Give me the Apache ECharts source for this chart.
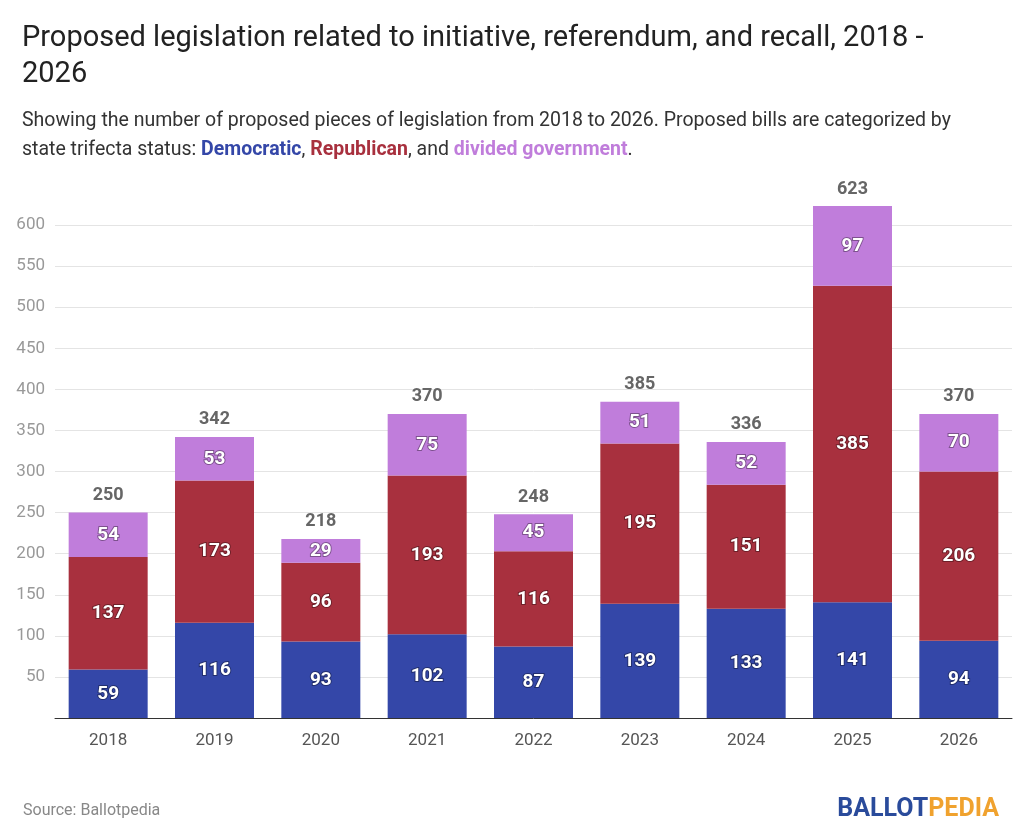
<!DOCTYPE html>
<html><head><meta charset="utf-8">
<script src="https://cdn.jsdelivr.net/npm/echarts@6/dist/echarts.min.js"></script>
<style>body{margin:0}#c{width:1024px;height:837px}</style></head>
<body><div id="c"></div><script>
const years=['2018','2019','2020','2021','2022','2023','2024','2025','2026'];
const dem=[59,116,93,102,87,139,133,141,94];
const rep=[137,173,96,193,116,195,151,385,206];
const div=[54,53,29,75,45,51,52,97,70];
const tot=[250,342,218,370,248,385,336,623,370];
const ch=echarts.init(document.getElementById('c'));
const inLbl={show:true,position:'inside',color:'#fff',fontSize:19,fontWeight:'bold',fontFamily:'Roboto',textBorderColor:'rgba(0,0,0,0.35)',textBorderWidth:2};
const bw=79;
ch.setOption({
 animation:false,
 textStyle:{fontFamily:'Roboto'},
 title:[{text:'Proposed legislation related to initiative, referendum, and recall, 2018 -\n2026',left:17,top:16,textStyle:{fontSize:29,fontWeight:'normal',color:'#222',lineHeight:36,fontFamily:'Roboto'}},
 {text:'Showing the number of proposed pieces of legislation from 2018 to 2026. Proposed bills are categorized by\nstate trifecta status: {d|Democratic}, {r|Republican}, and {v|divided government}.',left:17,top:102,textStyle:{fontSize:19.5,color:'#333',lineHeight:29,fontWeight:'normal',fontFamily:'Roboto',rich:{d:{color:'#3447a8',fontWeight:'bold',fontSize:19.5},r:{color:'#a8303e',fontWeight:'bold',fontSize:19.5},v:{color:'#c07ddb',fontWeight:'bold',fontSize:19.5}}}},
 {text:'Source: Ballotpedia',left:18,top:798,textStyle:{fontSize:16,color:'#888',fontWeight:'normal'}},
 {text:'{b|BALLOT}{p|PEDIA}',right:20,top:792,textStyle:{rich:{b:{color:'#2a4b9b',fontSize:25,fontWeight:'bold',fontFamily:'Roboto'},p:{color:'#f0a22e',fontSize:25,fontWeight:'bold',fontFamily:'Roboto'}}}}],
 grid:{left:55,right:12,top:225,bottom:119},
 xAxis:{type:'category',data:years,axisTick:{show:false},axisLine:{lineStyle:{color:'#333'}},axisLabel:{fontSize:17,color:'#555',margin:14}},
 yAxis:{type:'value',min:0,max:600,interval:50,axisLabel:{fontSize:17,color:'#999',margin:10,formatter:v=>v===0?'':v},splitLine:{lineStyle:{color:'#e4e4e4'}}},
 series:[
  {type:'bar',stack:'a',data:dem,barWidth:bw,itemStyle:{color:'#3447a8'},label:inLbl,clip:false},
  {type:'bar',stack:'a',data:rep,barWidth:bw,itemStyle:{color:'#a8303e'},label:inLbl,clip:false},
  {type:'bar',stack:'a',data:div,barWidth:bw,itemStyle:{color:'#c07ddb'},label:inLbl,clip:false},
  {type:'bar',stack:'a',data:tot.map(()=>0),barWidth:bw,clip:false,label:{show:true,position:'top',distance:8,color:'#666',fontSize:18,fontWeight:'bold',formatter:p=>tot[p.dataIndex]}}
 ]
});
</script></body></html>
